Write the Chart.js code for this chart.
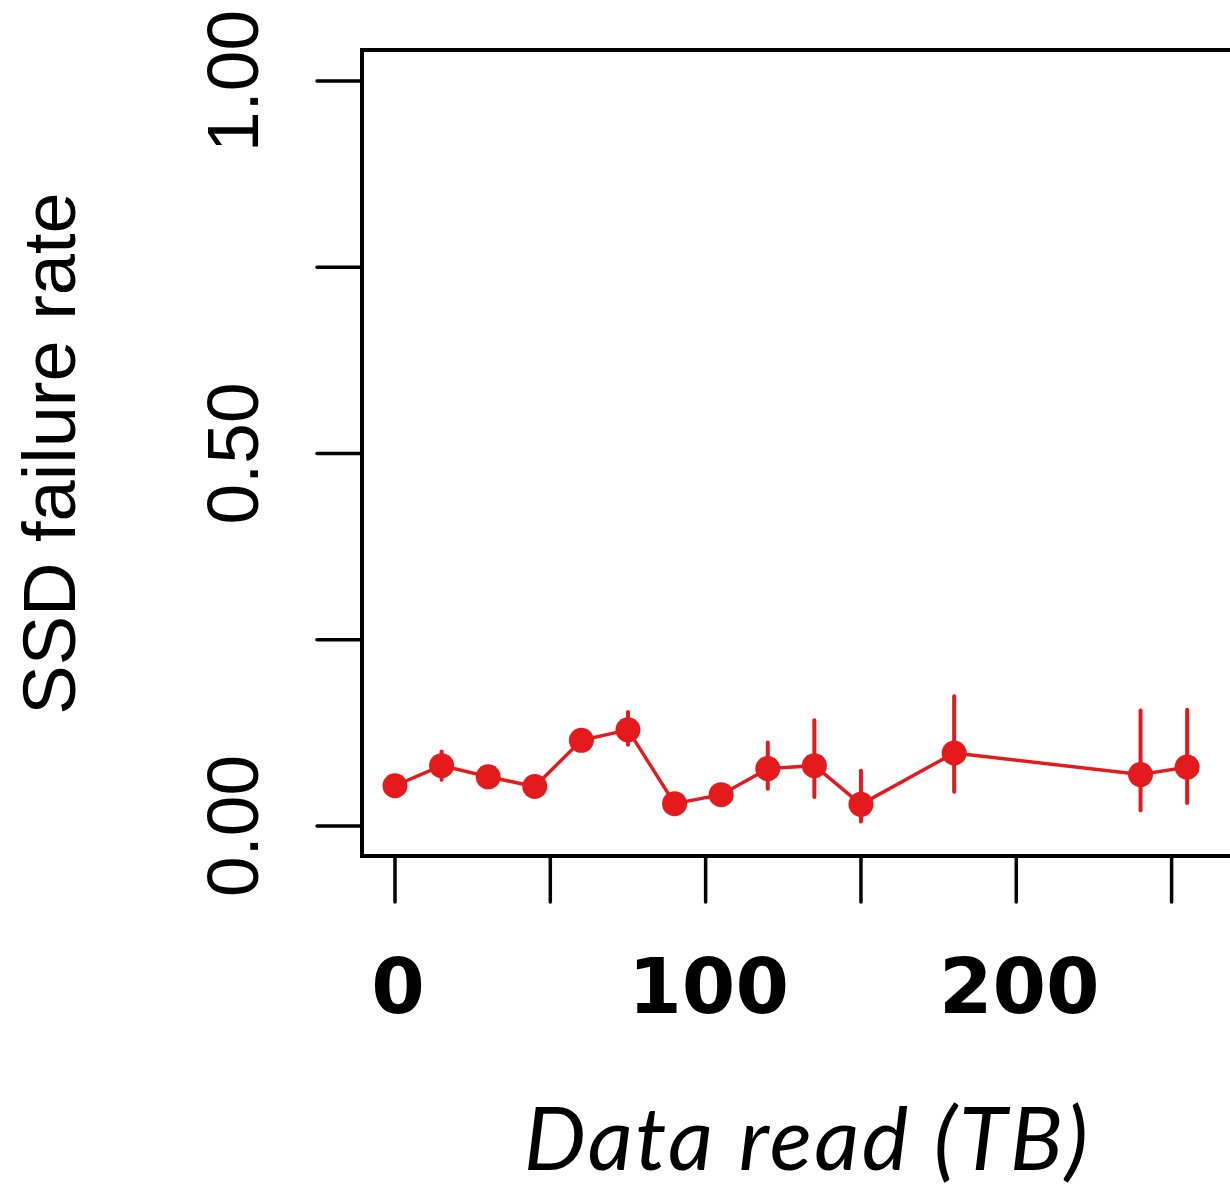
<!DOCTYPE html>
<html>
<head>
<meta charset="utf-8">
<script src="https://cdn.jsdelivr.net/npm/chart.js@4.4.1/dist/chart.umd.min.js"></script>
<style>
  html, body { margin: 0; padding: 0; background: #fff; }
  #wrap { width: 1230px; height: 1188px; }
</style>
</head>
<body>
<div id="wrap"><canvas id="failChart" width="1230" height="1188"></canvas></div>
<script>
// data
const dataRead = [0, 15, 30, 45, 60, 75, 90, 105, 120, 135, 150, 180, 240, 255];
const failRate = [0.054, 0.081, 0.066, 0.053, 0.115, 0.129, 0.030, 0.042, 0.077, 0.081, 0.029, 0.098, 0.069, 0.079];
const ciLow    = [0.050, 0.062, 0.060, 0.048, 0.108, 0.109, 0.026, 0.036, 0.050, 0.039, 0.006, 0.046, 0.021, 0.031];
const ciHigh   = [0.058, 0.100, 0.072, 0.058, 0.122, 0.153, 0.034, 0.048, 0.112, 0.142, 0.074, 0.174, 0.155, 0.156];

const xTicks = [0, 50, 100, 150, 200, 250];
const xTickLabels = ['0', '', '100', '', '200', ''];
const yTicks = [0, 0.25, 0.5, 0.75, 1];
const yTickLabels = ['0.00', '', '0.50', '', '1.00'];

const red = '#E41A1C';

const errorBars = {
  id: 'errorBars',
  beforeDatasetsDraw(chart) {
    const { ctx, scales: { x, y } } = chart;
    ctx.save();
    ctx.strokeStyle = red;
    ctx.lineWidth = 4;
    ctx.lineCap = 'round';
    dataRead.forEach((v, i) => {
      const px = x.getPixelForValue(v);
      ctx.beginPath();
      ctx.moveTo(px, y.getPixelForValue(ciLow[i]));
      ctx.lineTo(px, y.getPixelForValue(ciHigh[i]));
      ctx.stroke();
    });
    ctx.restore();
  }
};

// base-R style axes: box on three sides, ticks outside
const rAxes = {
  id: 'rAxes',
  afterDraw(chart) {
    const { ctx, chartArea: a, scales: { x, y } } = chart;
    ctx.save();
    ctx.strokeStyle = '#000';
    ctx.fillStyle = '#000';
    ctx.lineWidth = 4;
    ctx.beginPath();
    ctx.moveTo(a.right + 10, a.top);
    ctx.lineTo(a.left, a.top);
    ctx.lineTo(a.left, a.bottom);
    ctx.lineTo(a.right + 10, a.bottom);
    ctx.stroke();

    ctx.lineWidth = 3.5;
    ctx.lineCap = 'round';
    yTicks.forEach((v, i) => {
      const py = y.getPixelForValue(v);
      ctx.beginPath();
      ctx.moveTo(a.left - 45, py);
      ctx.lineTo(a.left, py);
      ctx.stroke();
      if (yTickLabels[i]) {
        ctx.save();
        ctx.translate(258, py);
        ctx.rotate(-Math.PI / 2);
        ctx.font = '73px "Liberation Sans", Arial, sans-serif';
        ctx.textAlign = 'center';
        ctx.textBaseline = 'alphabetic';
        ctx.fillText(yTickLabels[i], 0, 0);
        ctx.restore();
      }
    });

    xTicks.forEach((v, i) => {
      const px = x.getPixelForValue(v);
      ctx.beginPath();
      ctx.moveTo(px, a.bottom + 2);
      ctx.lineTo(px, a.bottom + 46);
      ctx.stroke();
      if (xTickLabels[i]) {
        ctx.font = 'bold 77px "DejaVu Sans", sans-serif';
        ctx.textAlign = 'center';
        ctx.textBaseline = 'alphabetic';
        ctx.fillText(xTickLabels[i], px + 3, 1013);
      }
    });

    // axis titles
    ctx.save();
    ctx.translate(75, (y.getPixelForValue(0) + y.getPixelForValue(1)) / 2);
    ctx.rotate(-Math.PI / 2);
    ctx.font = '74px "Liberation Sans", Arial, sans-serif';
    ctx.textAlign = 'center';
    ctx.fillText('SSD failure rate', 0, 0);
    ctx.restore();

    ctx.font = 'italic 88px Lato, "Open Sans", sans-serif';
    ctx.letterSpacing = '2.5px';
    ctx.textAlign = 'center';
    ctx.fillText('Data read (TB)', 807, 1170);
    ctx.restore();
  }
};

new Chart(document.getElementById('failChart'), {
  type: 'scatter',
  data: {
    datasets: [{
      label: 'SSD failure rate',
      data: dataRead.map((v, i) => ({ x: v, y: failRate[i] })),
      showLine: true,
      borderColor: red,
      borderWidth: 3.5,
      pointRadius: 12.5,
      pointBackgroundColor: red,
      pointBorderWidth: 0,
      pointHoverRadius: 12.5,
      clip: false
    }]
  },
  options: {
    responsive: false,
    animation: false,
    devicePixelRatio: 1,
    layout: { autoPadding: false, padding: { left: 362, top: 50, right: 0, bottom: 332 } },
    scales: {
      x: { type: 'linear', display: false, min: -10.62, max: 268.8 },
      y: { type: 'linear', display: false, min: -0.0403, max: 1.0416 }
    },
    plugins: {
      legend: { display: false },
      tooltip: { enabled: false }
    }
  },
  plugins: [errorBars, rAxes]
});
</script>
</body>
</html>
